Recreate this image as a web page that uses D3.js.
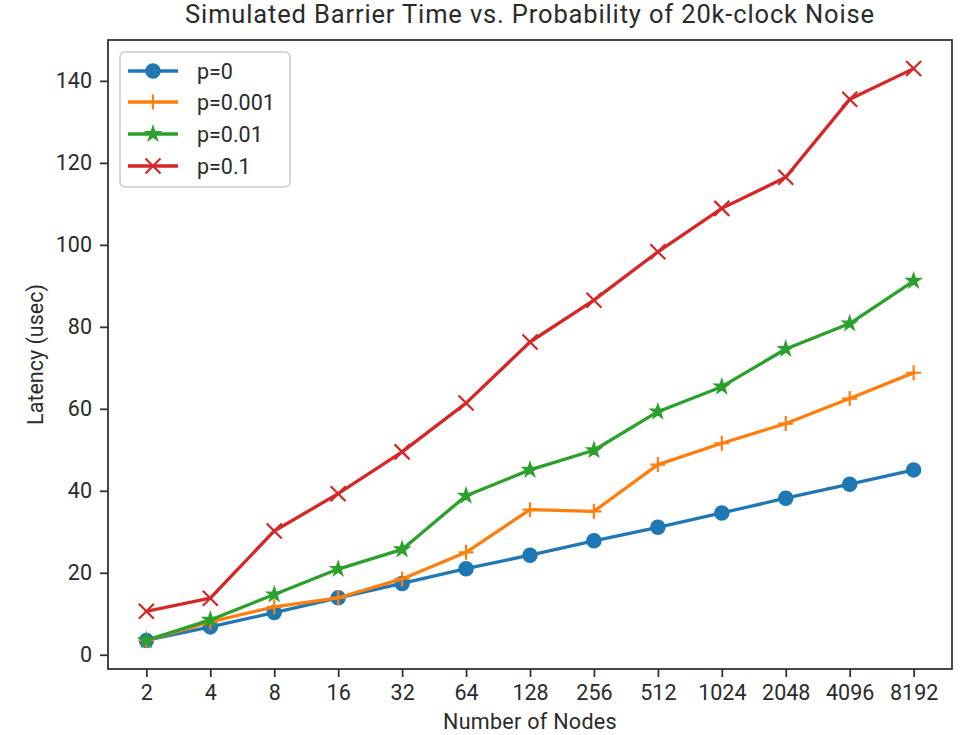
<!DOCTYPE html>
<html>
<head>
<meta charset="utf-8">
<script src="https://cdn.jsdelivr.net/npm/d3@7"></script>
<style>
  html, body { margin: 0; padding: 0; background: #ffffff; }
  svg { display: block; }
  text { font-family: Roboto, "DejaVu Sans", sans-serif; fill: #2a2a2a; }
</style>
</head>
<body>
<svg id="chart" width="966" height="735"></svg>
<script>
const categories = ["2", "4", "8", "16", "32", "64", "128", "256", "512", "1024", "2048", "4096", "8192"];
const p0    = [3.5, 6.8, 10.3, 13.9, 17.4, 21.0, 24.3, 27.8, 31.1, 34.6, 38.2, 41.6, 45.1];
const p0001 = [3.5, 8.0, 11.7, 13.9, 18.5, 25.0, 35.4, 35.0, 46.4, 51.6, 56.4, 62.5, 68.8];
const p001  = [3.5, 8.5, 14.7, 20.9, 25.7, 38.8, 45.1, 49.9, 59.3, 65.4, 74.6, 80.8, 91.2];
const p01   = [10.6, 13.8, 30.2, 39.3, 49.5, 61.4, 76.3, 86.5, 98.3, 108.9, 116.5, 135.5, 143.0];
const seriesNames = ["p=0", "p=0.001", "p=0.01", "p=0.1"];
const yTicks = [0, 20, 40, 60, 80, 100, 120, 140];
const titleText = "Simulated Barrier Time vs. Probability of 20k-clock Noise";
const xLabelText = "Number of Nodes";
const yLabelText = "Latency (usec)";

const colors = ["#1f77b4", "#ff7f0e", "#2ca02c", "#d62728"];
const markers = ["circle", "plus", "star", "x"];
const seriesValues = [p0, p0001, p001, p01];

const svg = d3.select("#chart");
const L = 108, R = 952, T = 40, B = 669;

const n = categories.length;
const xm = (n - 1) * 0.05;
const x = d3.scaleLinear().domain([-xm, n - 1 + xm]).range([L, R]);
const allV = seriesValues.flat();
const vmin = d3.min(allV), vmax = d3.max(allV);
const ym = (vmax - vmin) * 0.05;
const y = d3.scaleLinear().domain([vmin - ym, vmax + ym]).range([B, T]);

// Title
svg.append("text").attr("x", (L + R) / 2).attr("y", 23)
  .attr("text-anchor", "middle").style("font-size", "25.5px").style("letter-spacing", "0.85px").text(titleText);

// Axes
const xAxis = d3.axisBottom(x).tickValues(d3.range(n)).tickFormat(i => categories[i])
  .tickSize(8).tickPadding(8);
const gx = svg.append("g").attr("transform", `translate(0,${B})`).call(xAxis);
const yAxis = d3.axisLeft(y).tickValues(yTicks).tickSize(8).tickPadding(8);
const gy = svg.append("g").attr("transform", `translate(${L},0)`).call(yAxis);
[gx, gy].forEach(g => {
  g.select(".domain").remove();
  g.selectAll(".tick line").attr("stroke", "#333").attr("stroke-width", 1.8);
  g.selectAll(".tick text").style("font-size", "21.5px").style("font-family", "Roboto, sans-serif").attr("fill", "#2a2a2a");
});

// Axis labels
svg.append("text").attr("x", (L + R) / 2).attr("y", 729)
  .attr("text-anchor", "middle").style("font-size", "21.5px").style("letter-spacing", "0.3px").text(xLabelText);
svg.append("text").attr("transform", `translate(43,${(T + B) / 2}) rotate(-90)`)
  .attr("text-anchor", "middle").style("font-size", "21.5px").text(yLabelText);

// Marker drawing
function drawMarker(g, type, color) {
  if (type === "circle") {
    g.append("circle").attr("r", 7).attr("fill", color).attr("stroke", color).attr("stroke-width", 1.5);
  } else if (type === "star") {
    g.append("path").attr("d", d3.symbol(d3.symbolStar, 7.5 * 7.5 / 0.8908130915292852)())
      .attr("fill", color).attr("stroke", color).attr("stroke-width", 1.5).attr("stroke-linejoin", "miter");
  } else if (type === "plus") {
    g.append("path").attr("d", "M-7.5,0H7.5M0,-7.5V7.5").attr("stroke", color).attr("stroke-width", 2.2).attr("fill", "none");
  } else if (type === "x") {
    g.append("path").attr("d", "M-7.5,-7.5L7.5,7.5M-7.5,7.5L7.5,-7.5").attr("stroke", color).attr("stroke-width", 2.2).attr("fill", "none");
  }
}

// Series
const plot = svg.append("g");
const line = d3.line().x((d, i) => x(i)).y(d => y(d));
seriesValues.forEach((vals, si) => {
  const g = plot.append("g");
  g.append("path").datum(vals).attr("d", line).attr("fill", "none")
    .attr("stroke", colors[si]).attr("stroke-width", 3.3).attr("stroke-linejoin", "round").attr("stroke-linecap", "square");
  vals.forEach((v, i) => {
    const mg = g.append("g").attr("transform", `translate(${x(i)},${y(v)})`);
    drawMarker(mg, markers[si], colors[si]);
  });
});

// Spines
svg.append("rect").attr("x", L).attr("y", T).attr("width", R - L).attr("height", B - T)
  .attr("fill", "none").attr("stroke", "#333").attr("stroke-width", 1.8);

// Legend
const lg = svg.append("g");
lg.append("rect").attr("x", 120).attr("y", 52).attr("width", 170).attr("height", 135)
  .attr("rx", 5).attr("fill", "#ffffff").attr("fill-opacity", 0.8)
  .attr("stroke", "#cccccc").attr("stroke-width", 1.6);
const rowY = [71, 102, 134, 166];
seriesNames.forEach((name, si) => {
  const yy = rowY[si];
  lg.append("line").attr("x1", 128).attr("x2", 178).attr("y1", yy).attr("y2", yy)
    .attr("stroke", colors[si]).attr("stroke-width", 3.3);
  const mg = lg.append("g").attr("transform", `translate(153,${yy})`);
  drawMarker(mg, markers[si], colors[si]);
  lg.append("text").attr("x", 197).attr("y", yy + 8).style("font-size", "21.5px").text(name);
});
</script>
</body>
</html>
